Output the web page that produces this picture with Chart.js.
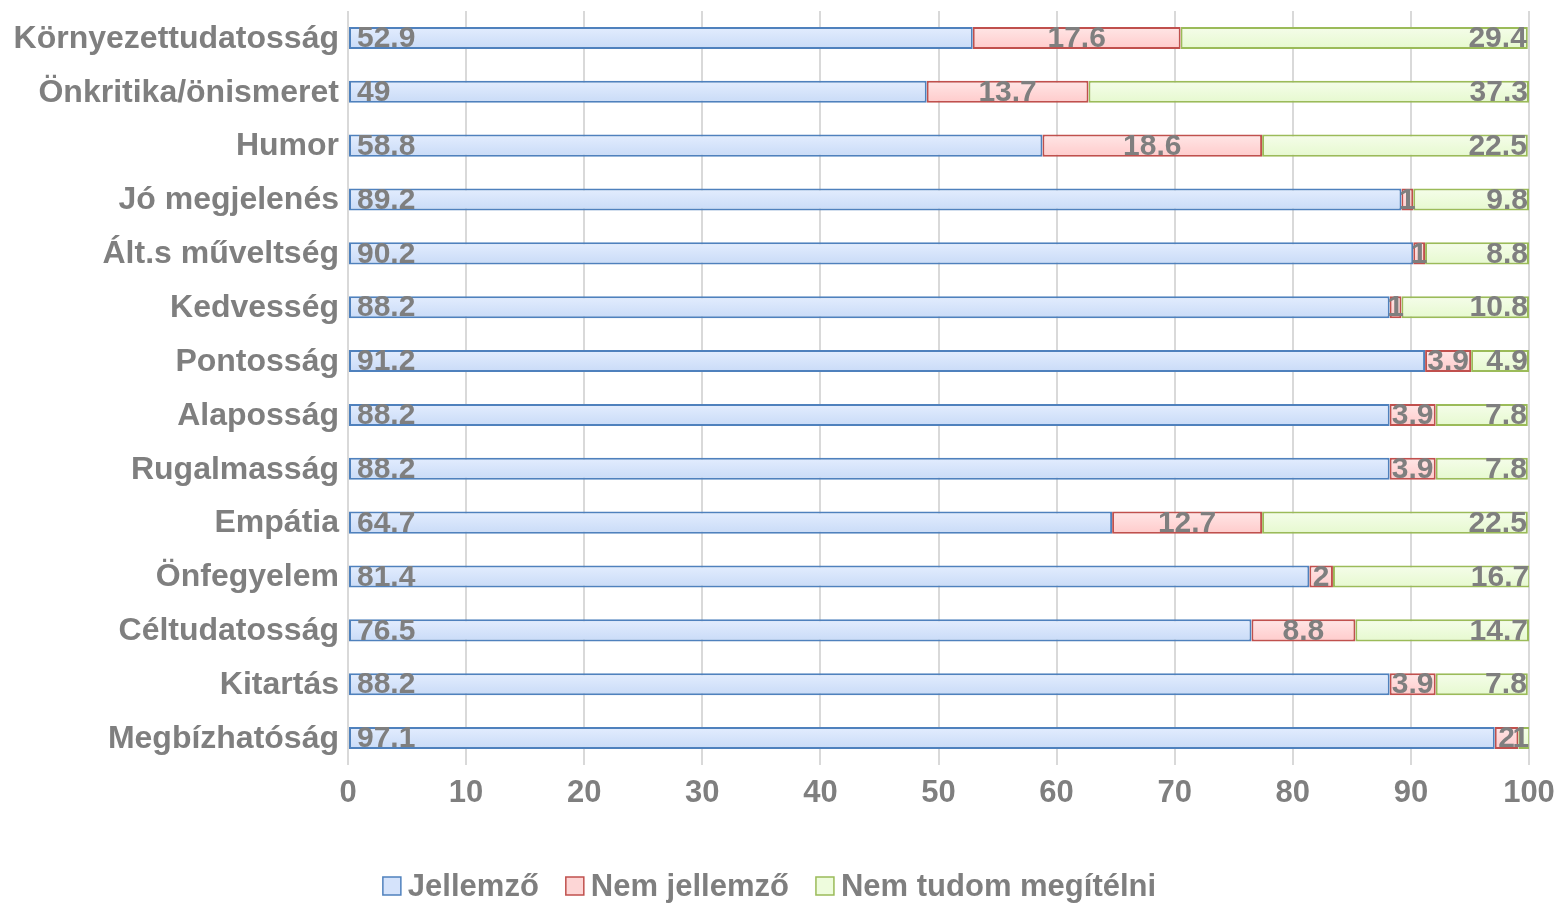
<!DOCTYPE html>
<html>
<head>
<meta charset="utf-8">
<script src="https://cdn.jsdelivr.net/npm/chart.js@4.4.1/dist/chart.umd.min.js"></script>
<style>
  html, body { margin: 0; padding: 0; background: #ffffff; }
  #wrap { width: 1559px; height: 903px; position: relative; }
</style>
</head>
<body>
<div id="wrap"><canvas id="chart-area"></canvas></div>
<script>
var categories = [
    "Környezettudatosság",
    "Önkritika/önismeret",
    "Humor",
    "Jó megjelenés",
    "Ált.s műveltség",
    "Kedvesség",
    "Pontosság",
    "Alaposság",
    "Rugalmasság",
    "Empátia",
    "Önfegyelem",
    "Céltudatosság",
    "Kitartás",
    "Megbízhatóság"
];
var jellemzo      = [52.9, 49, 58.8, 89.2, 90.2, 88.2, 91.2, 88.2, 88.2, 64.7, 81.4, 76.5, 88.2, 97.1];
var nemJellemzo   = [17.6, 13.7, 18.6, 1, 1, 1, 3.9, 3.9, 3.9, 12.7, 2, 8.8, 3.9, 2];
var nemTudom      = [29.4, 37.3, 22.5, 9.8, 8.8, 10.8, 4.9, 7.8, 7.8, 22.5, 16.7, 14.7, 7.8, 1];
var seriesNames   = ["Jellemző", "Nem jellemző", "Nem tudom megítélni"];
var xTicks        = [0, 10, 20, 30, 40, 50, 60, 70, 80, 90, 100];

var grey = "#7f7f7f";
var fontName = "'Liberation Sans', Arial, sans-serif";
var legendFills = ["#d5e3fb", "#fdd6d6", "#eefcdd"];

// light vertical gradient on each bar (needs element geometry, so a second update is done below)
function barFill(top, bottom, flat) {
    return function(context) {
        var chart = context.chart;
        var el = context.element;
        if (!chart.chartArea || !el || !el.height) return flat;
        var h = el.height;
        var g = chart.ctx.createLinearGradient(0, el.y - h / 2, 0, el.y + h / 2);
        g.addColorStop(0, top);
        g.addColorStop(1, bottom);
        return g;
    };
}

// category names drawn by hand so the plot area keeps its place
var catLabels = {
    id: "catLabels",
    afterDraw: function(chart) {
        var ctx = chart.ctx;
        var y = chart.scales.y;
        ctx.save();
        ctx.font = "bold 32px " + fontName;
        ctx.fillStyle = grey;
        ctx.textAlign = "right";
        ctx.textBaseline = "middle";
        chart.data.labels.forEach(function(lbl, i) {
            ctx.fillText(lbl, chart.chartArea.left - 9, y.getPixelForValue(i) + 1);
        });
        ctx.restore();
    }
};

// legend at the bottom, small boxes close to the text
var bottomLegend = {
    id: "bottomLegend",
    afterDraw: function(chart) {
        var ctx = chart.ctx;
        var box = 18, gap = 7, itemGap = 27;
        ctx.save();
        ctx.font = "bold 31px " + fontName;
        var widths = seriesNames.map(function(n) { return box + gap + ctx.measureText(n).width; });
        var total = widths.reduce(function(a, b) { return a + b; }, 0) + itemGap * (widths.length - 1);
        var x = chart.width / 2 - 10 - total / 2;
        var yc = 886;
        ctx.textAlign = "left";
        ctx.textBaseline = "middle";
        chart.data.datasets.forEach(function(ds, i) {
            ctx.fillStyle = legendFills[i];
            ctx.fillRect(x, yc - box / 2, box, box);
            ctx.strokeStyle = ds.borderColor;
            ctx.lineWidth = 1.5;
            ctx.strokeRect(x, yc - box / 2, box, box);
            ctx.fillStyle = grey;
            ctx.fillText(seriesNames[i], x + box + gap, yc + 1);
            x += widths[i] + itemGap;
        });
        ctx.restore();
    }
};

// value labels: first series at bar start, second centred, third at bar end
var valueLabels = {
    id: "valueLabels",
    afterDatasetsDraw: function(chart) {
        var ctx = chart.ctx;
        ctx.save();
        ctx.font = "bold 30px " + fontName;
        ctx.fillStyle = grey;
        ctx.textBaseline = "middle";
        chart.data.datasets.forEach(function(ds, di) {
            var meta = chart.getDatasetMeta(di);
            meta.data.forEach(function(bar, i) {
                var txt = String(ds.data[i]);
                var x;
                if (di == 0) {
                    ctx.textAlign = "left";
                    x = bar.base + 8;
                } else if (di == 1) {
                    ctx.textAlign = "center";
                    x = (bar.base + bar.x) / 2;
                } else {
                    ctx.textAlign = "right";
                    x = bar.x - 1;
                }
                ctx.fillText(txt, x, bar.y + 1);
            });
        });
        ctx.restore();
    }
};

var config = {
    type: "bar",
    data: {
        labels: categories,
        datasets: [{
            label: seriesNames[0],
            data: jellemzo,
            backgroundColor: barFill("#e3edfe", "#c9dbf7", "#d5e3fb"),
            borderColor: "#4f81bd",
            borderWidth: 2,
            borderSkipped: false
        }, {
            label: seriesNames[1],
            data: nemJellemzo,
            backgroundColor: barFill("#ffe6e6", "#ffcbcb", "#fdd6d6"),
            borderColor: "#c0504d",
            borderWidth: 2,
            borderSkipped: false
        }, {
            label: seriesNames[2],
            data: nemTudom,
            backgroundColor: barFill("#f5fdea", "#e6f9cf", "#eefcdd"),
            borderColor: "#9bbb59",
            borderWidth: 2,
            borderSkipped: false
        }]
    },
    options: {
        indexAxis: "y",
        responsive: true,
        maintainAspectRatio: false,
        animation: false,
        layout: { padding: { top: 11, right: 30, bottom: 50, left: 0 } },
        datasets: {
            bar: { barPercentage: 0.41, categoryPercentage: 1 }
        },
        scales: {
            x: {
                stacked: true,
                min: 0,
                max: 100,
                afterBuildTicks: function(scale) {
                    scale.ticks = xTicks.map(function(v) { return { value: v }; });
                },
                grid: { color: "#d9d9d9", lineWidth: 2, drawTicks: false },
                border: { display: false },
                ticks: {
                    padding: 10,
                    color: grey,
                    font: { family: fontName, size: 31, weight: "bold" }
                },
                afterFit: function(scale) {
                    scale.height = 88;
                    scale.paddingLeft = 0;
                    scale.paddingRight = 0;
                }
            },
            y: {
                stacked: true,
                grid: { display: false, drawTicks: false },
                border: { display: false },
                ticks: { display: false },
                afterFit: function(scale) { scale.width = 348; }
            }
        },
        plugins: {
            legend: { display: false },
            tooltip: { enabled: false }
        }
    },
    plugins: [catLabels, valueLabels, bottomLegend]
};

window.myBar = new Chart(document.getElementById("chart-area").getContext("2d"), config);
window.myBar.update();
</script>
</body>
</html>
